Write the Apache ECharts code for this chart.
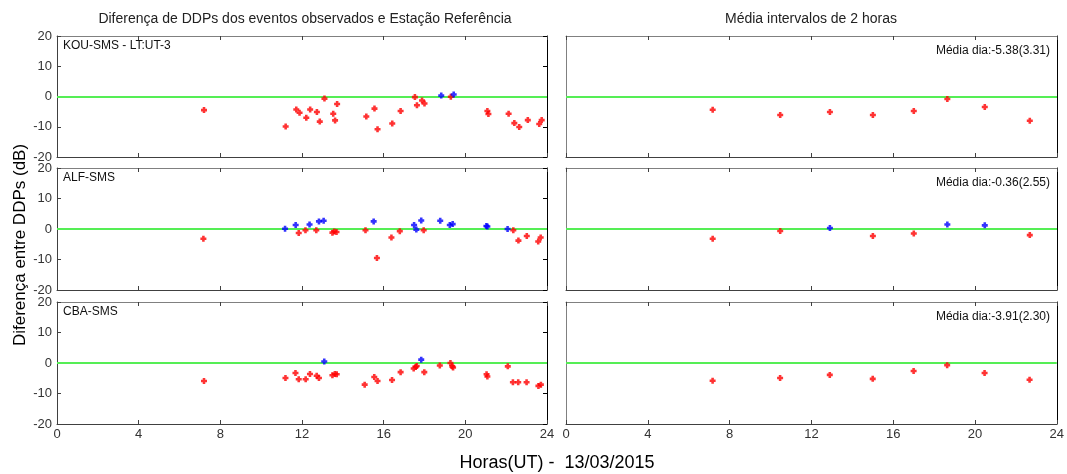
<!DOCTYPE html>
<html><head><meta charset="utf-8">
<script src="https://cdn.jsdelivr.net/npm/echarts@6/dist/echarts.min.js"></script>
<style>html,body{margin:0;padding:0;background:#fff}#c{width:1067px;height:474px}</style>
</head><body><div id="c"></div>
<script>
// ---- data: [hour UT, difference dB]
const kouRed = [[7.2,-4.5],[11.2,-9.9],[11.72,-4.3],[11.88,-5.4],[12.21,-7.0],[12.4,-4.3],[12.73,-5.1],[12.87,-8.3],[13.1,-0.7],[13.53,-5.7],[13.62,-7.9],[13.72,-2.5],[15.15,-6.6],[15.55,-4.0],[15.7,-10.8],[16.42,-8.9],[16.83,-4.8],[17.53,-0.2],[17.63,-2.9],[17.88,-1.3],[18.0,-2.3],[19.29,-0.1],[21.08,-4.8],[21.13,-5.8],[22.12,-5.7],[22.4,-8.8],[22.64,-10.1],[23.06,-7.8],[23.62,-9.1],[23.74,-7.8]];
const kouBlue = [[18.82,0.3],[19.43,0.65]];
const alfRed = [[7.17,-3.2],[11.84,-1.3],[12.17,-0.4],[12.7,-0.4],[13.49,-1.2],[13.58,-0.8],[13.69,-1.0],[15.11,-0.4],[15.67,-9.5],[16.38,-2.8],[16.79,-0.7],[17.96,-0.4],[22.35,-0.4],[22.6,-3.8],[23.01,-2.3],[23.57,-4.1],[23.69,-2.8]];
const alfBlue = [[11.17,0.1],[11.69,1.3],[12.37,1.5],[12.83,2.5],[13.06,2.7],[15.51,2.5],[17.49,1.3],[17.6,-0.2],[17.84,2.8],[18.77,2.7],[19.24,1.3],[19.38,1.6],[21.03,1.0],[21.08,0.8],[22.07,0.0]];
const cbaRed = [[7.2,-5.9],[11.19,-4.9],[11.68,-3.3],[11.84,-5.3],[12.18,-5.3],[12.39,-3.6],[12.72,-4.2],[12.83,-4.9],[13.49,-4.0],[13.61,-3.6],[13.7,-3.7],[15.07,-7.1],[15.54,-4.6],[15.7,-5.9],[16.41,-5.6],[16.83,-3.0],[17.47,-1.8],[17.57,-1.3],[17.62,-1.0],[17.99,-3.0],[18.75,-0.8],[19.27,0.0],[19.36,-1.1],[19.4,-1.5],[21.04,-3.7],[21.08,-4.4],[22.08,-1.1],[22.33,-6.3],[22.59,-6.3],[23.0,-6.3],[23.58,-7.5],[23.7,-7.1]];
const cbaBlue = [[13.09,0.5],[17.84,1.1]];
const kouMeanRed = [[7.17,-4.4],[10.47,-6.1],[12.9,-5.1],[15.0,-6.1],[17.0,-4.8],[18.64,-0.8],[20.47,-3.5],[22.67,-8.0]];
const kouMeanBlue = [];
const alfMeanRed = [[7.17,-3.2],[10.47,-0.65],[15.0,-2.3],[17.0,-1.5],[22.67,-2.0]];
const alfMeanBlue = [[12.9,0.3],[18.64,1.5],[20.47,1.2]];
const cbaMeanRed = [[7.17,-5.8],[10.47,-4.9],[12.9,-3.9],[15.0,-5.2],[17.0,-2.6],[18.64,-0.7],[20.47,-3.3],[22.67,-5.5]];
const cbaMeanBlue = [];
const stationLabels = ['KOU-SMS - LT:UT-3','ALF-SMS','CBA-SMS'];
const meanLabels = ['Média dia:-5.38(3.31)','Média dia:-0.36(2.55)','Média dia:-3.91(2.30)'];
const xTicks = [0,4,8,12,16,20,24];
const yTicks = [-20,-10,0,10,20];

const panels = [
  [kouRed,kouBlue],[kouMeanRed,kouMeanBlue],
  [alfRed,alfBlue],[alfMeanRed,alfMeanBlue],
  [cbaRed,cbaBlue],[cbaMeanRed,cbaMeanBlue]
];

const tops = [36,168,302], H = [121,122,122];
const lefts = [57,566], W = [490,491];
const FONT = '"Liberation Sans", Arial, sans-serif';
const marker = 'path://M2,0H5V2H7V5H5V7H2V5H0V2H2Z';

const grid=[], xAxis=[], yAxis=[], series=[], graphic=[];
panels.forEach((p,i)=>{
  const row = Math.floor(i/2), col = i%2;
  grid.push({left:lefts[col], top:tops[row], width:W[col], height:H[row], containLabel:false});
  const showX = row===2;
  xAxis.push({type:'value', gridIndex:i, min:0, max:24, interval:4, position:'bottom',
    axisLine:{show:true, onZero:false, lineStyle:{color:'#404040', width:1}},
    axisTick:{show:true, inside:true, length:4, lineStyle:{color:'#404040'}},
    axisLabel:{show:showX, color:'#333', fontFamily:FONT, fontSize:13, margin:4},
    splitLine:{show:false}});
  xAxis.push({type:'value', gridIndex:i, min:0, max:24, interval:4, position:'top',
    axisLine:{show:true, onZero:false, lineStyle:{color:'#808080', width:1}},
    axisTick:{show:true, inside:true, length:4, lineStyle:{color:'#404040'}},
    axisLabel:{show:false}, splitLine:{show:false}});
  const isLeft = col===0;
  yAxis.push({type:'value', gridIndex:i, min:-20, max:20, interval:10, position:'left',
    axisLine:{show:true, onZero:false, lineStyle:{color: isLeft?'#404040':'#808080', width:1}},
    axisTick:{show:isLeft, inside:true, length:4, lineStyle:{color:'#404040'}},
    axisLabel:{show:isLeft, color:'#333', fontFamily:FONT, fontSize:13, margin:5},
    splitLine:{show:false}});
  yAxis.push({type:'value', gridIndex:i, min:-20, max:20, interval:10, position:'right',
    axisLine:{show:true, onZero:false, lineStyle:{color:'#000', width:1}},
    axisTick:{show:isLeft, inside:true, length:4, lineStyle:{color:'#000'}},
    axisLabel:{show:false}, splitLine:{show:false}});
  series.push({type:'scatter', xAxisIndex:2*i, yAxisIndex:2*i, data:p[0], symbol:marker, symbolSize:6,
    itemStyle:{color:'#ff0000'}, z:3,
    markLine:{silent:true, symbol:'none', label:{show:false}, z:2,
      lineStyle:{color:'#55ee55', width:2, type:'solid'}, data:[{yAxis:0}]}});
  series.push({type:'scatter', xAxisIndex:2*i, yAxisIndex:2*i, data:p[1], symbol:marker, symbolSize:6,
    itemStyle:{color:'#0000ff'}, z:4});
  if (isLeft) {
    graphic.push({type:'text', left:lefts[0]+6, top:tops[row]+4,
      style:{text:stationLabels[row], font:'12px '+FONT, fill:'#111'}});
  } else {
    graphic.push({type:'text', right:1067-(lefts[1]+W[1])+7, top:tops[row]+9,
      style:{text:meanLabels[row], font:'12px '+FONT, fill:'#111', textAlign:'right'}});
  }
});

graphic.push({type:'text', x:305, y:19, style:{text:'Diferença de DDPs dos eventos observados e Estação Referência', font:'14px '+FONT, fill:'#222', textAlign:'center', textVerticalAlign:'middle'}});
graphic.push({type:'text', x:811, y:19, style:{text:'Média intervalos de 2 horas', font:'14px '+FONT, fill:'#222', textAlign:'center', textVerticalAlign:'middle'}});
graphic.push({type:'text', x:20, y:245, rotation:Math.PI/2, style:{text:'Diferença entre DDPs (dB)', font:'17px '+FONT, fill:'#000', textAlign:'center', textVerticalAlign:'middle'}});
graphic.push({type:'text', x:557, y:463, style:{text:'Horas(UT) -  13/03/2015', font:'18px '+FONT, fill:'#000', textAlign:'center', textVerticalAlign:'middle'}});

const chart = echarts.init(document.getElementById('c'), null, {renderer:'canvas'});
chart.setOption({animation:false, backgroundColor:'#fff', grid, xAxis, yAxis, series, graphic});
</script></body></html>
